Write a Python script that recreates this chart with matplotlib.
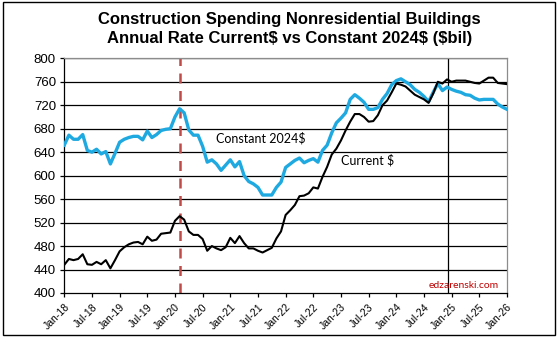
import matplotlib
matplotlib.use("Agg")
import matplotlib.pyplot as plt
from matplotlib.patches import Rectangle
import pandas as pd

# monthly, Jan-18 .. Jan-26, $ billions
meses = pd.date_range("2018-01-01", "2026-01-01", freq="MS")

corrente = [448, 458, 456, 458, 466, 449, 448, 453, 449, 456, 442, 456,
            471, 478, 483, 486, 487, 483, 496, 489, 491, 501, 502, 503,
            523, 531, 525, 505, 499, 499, 492, 472, 480, 476, 473, 478,
            494, 485, 497, 485, 476, 476, 472, 469, 473, 477, 493, 505,
            533, 541, 550, 565, 566, 570, 580, 578, 598, 615, 636, 646,
            660, 677, 692, 705, 705, 700, 692, 693, 703, 720, 728, 742,
            757, 755, 752, 745, 738, 734, 730, 724, 740, 760, 757, 764,
            760, 762, 762, 762, 760, 758, 757, 762, 767, 767, 758, 757,
            756]

constante = [652, 669, 662, 662, 670, 643, 640, 645, 637, 641, 620, 638,
             657, 662, 665, 667, 667, 661, 676, 665, 670, 677, 679, 680,
             700, 714, 707, 678, 669, 669, 650, 623, 627, 620, 609, 618,
             627, 615, 624, 600, 590, 586, 580, 567, 567, 567, 580, 589,
             614, 620, 626, 630, 622, 626, 629, 623, 643, 652, 673, 690,
             698, 707, 730, 738, 732, 725, 713, 713, 716, 730, 740, 755,
             762, 765, 760, 755, 747, 742, 735, 726, 742, 757, 745, 751,
             747, 744, 742, 738, 737, 732, 729, 730, 730, 730, 722, 717,
             713]

marco_covid = 25      # Feb-20
marco_2025 = 83.3     # just before Jan-25

x = list(range(len(meses)))
rotulos = [d.strftime("%b-%y") for d in meses]

fig = plt.figure(figsize=(5.57, 3.42), dpi=100)
ax = fig.add_axes([0.1154, 0.1433, 0.9102 - 0.1154, 0.8295 - 0.1433])

for y in range(440, 801, 40):
    ax.axhline(y, color="black", lw=0.9, zorder=1)

ax.axvline(marco_covid, color="#BE4B48", lw=1.8, ls=(0, (4, 3)), zorder=2)
ax.axvline(marco_2025, color="black", lw=0.9, zorder=2)

ax.plot(x, constante, color="#1FA9E1", lw=2.4, zorder=3)
ax.plot(x, corrente, color="black", lw=1.5, zorder=4)

ax.set_xlim(0, len(meses) - 1)
ax.set_ylim(400, 800)
ax.set_yticks(range(400, 801, 40))
ax.set_xticks(x[::6])
ax.set_xticklabels(rotulos[::6], rotation=45, ha="right", rotation_mode="anchor",
                   fontsize=7.5, family="Liberation Sans")
for t in ax.get_yticklabels():
    t.set_family("Liberation Sans")
    t.set_fontsize(9.5)
ax.tick_params(axis="both", direction="out", length=3, width=0.9, color="black")
ax.tick_params(axis="y", pad=3)

for lado in ["top", "right"]:
    ax.spines[lado].set_color("#8C8C8C")
    ax.spines[lado].set_linewidth(0.9)
for lado in ["left", "bottom"]:
    ax.spines[lado].set_color("black")
    ax.spines[lado].set_linewidth(0.9)

ax.text(32.8, 663, "Constant 2024$", fontsize=9, family="Lato", va="center")
ax.text(60, 626, "Current $", fontsize=9, family="Lato", va="center")
ax.text(79, 412, "edzarenski.com", fontsize=7.5, family="Lato", color="#C00000", va="center")

fig.text(0.52, 0.942, "Construction Spending Nonresidential Buildings",
         ha="center", va="center", fontsize=12, fontweight="bold", family="Liberation Sans")
fig.text(0.52, 0.888, "Annual Rate Current$ vs Constant 2024$ ($bil)",
         ha="center", va="center", fontsize=12, fontweight="bold", family="Liberation Sans")

fig.patches.append(Rectangle((0.0054, 0.0205), 0.991, 0.973, transform=fig.transFigure,
                             fill=False, ec="black", lw=1))

fig.savefig("out.png", dpi=100)
